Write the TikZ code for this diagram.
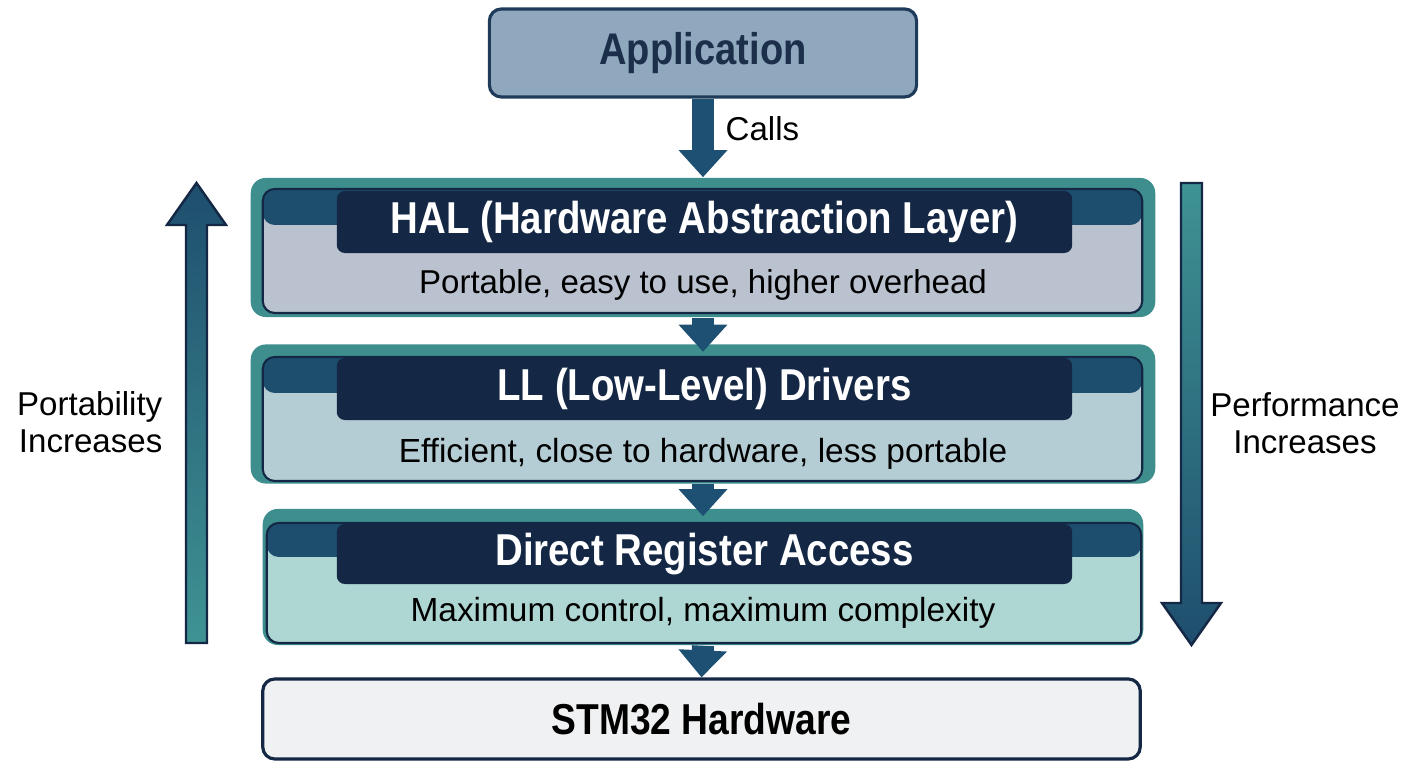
\documentclass[tikz,border=0pt]{standalone}
\usepackage{fontspec}
\setmainfont{Liberation Sans}[BoldFeatures={FakeStretch=0.86}]
\usetikzlibrary{arrows.meta,positioning,calc}
\definecolor{navy}{RGB}{20,40,70}
\definecolor{stripblue}{RGB}{30,78,110}
\definecolor{tealout}{RGB}{62,142,142}
\definecolor{flowblue}{RGB}{30,80,115}
\definecolor{appfill}{RGB}{143,168,190}
\definecolor{appline}{RGB}{30,60,90}
\definecolor{apptext}{RGB}{27,47,74}
\definecolor{halfill}{RGB}{185,194,206}
\definecolor{llfill}{RGB}{180,204,212}
\definecolor{drafill}{RGB}{174,214,210}
\definecolor{hwfill}{RGB}{240,241,242}
\definecolor{sideteal}{RGB}{63,147,147}

\tikzset{
  layerout/.style={fill=tealout, rounded corners=0.15cm, minimum width=9.04cm, minimum height=1.39cm, inner sep=0pt},
  layerin/.style={draw=navy, line width=0.6pt, rounded corners=0.12cm, minimum width=8.79cm, minimum height=1.24cm, inner sep=0pt,
    path picture={\fill[stripblue] (path picture bounding box.north west) rectangle ([yshift=-#1]path picture bounding box.north east);}},
  layerin/.default=0.36cm,
  titlebar/.style={fill=navy, rounded corners=0.08cm, minimum width=7.35cm, minimum height=0.62cm, inner sep=0pt, text=white, font=\bfseries\fontsize{12.7}{14}\selectfont},
  subtext/.style={font=\fontsize{9.5}{11}\selectfont},
  sidetext/.style={font=\fontsize{9.4}{10.5}\selectfont, inner sep=0pt},
  flow/.style={draw=flowblue, line width=0.22cm, -{Triangle[length=0.27cm, width=0.47cm]}}
}

\begin{document}
\begin{tikzpicture}[x=0.01cm,y=-0.01cm]
	\useasboundingbox (0,0) rectangle (1408,768);

	% top box
	\node[draw=appline, line width=0.9pt, fill=appfill, rounded corners=0.12cm, minimum width=4.27cm, minimum height=0.88cm, text=apptext, font=\bfseries\fontsize{12.6}{14}\selectfont] (app) at (703,53) {Application};

	% HAL layer
	\node[layerout] (halout) at (703,247.5) {};
	\node[layerin, fill=halfill] (halin) at (702.5,251) {};
	\node[titlebar] (haltitle) at (704.5,222) {HAL (Hardware Abstraction Layer)};
	\node[subtext, font=\fontsize{9.4}{11}\selectfont] (halsub) at (703,285) {Portable, easy to use, higher overhead};

	% LL layer
	\node[layerout] (llout) at (703,414) {};
	\node[layerin, fill=llfill] (llin) at (702.5,419) {};
	\node[titlebar] (lltitle) at (704.5,389) {LL (Low-Level) Drivers};
	\node[subtext] (llsub) at (703,454) {Efficient, close to hardware, less portable};

	% register layer
	\node[layerout, minimum width=8.80cm, minimum height=1.36cm] (draout) at (703,577) {};
	\node[layerin=0.34cm, fill=drafill, minimum width=8.74cm, minimum height=1.20cm] (drain) at (704,583) {};
	\node[titlebar, minimum height=0.60cm] (dratitle) at (704.5,554) {Direct Register Access};
	\node[subtext] (drasub) at (703,613) {Maximum control, maximum complexity};

	% hardware
	\node[draw=navy, line width=0.9pt, fill=hwfill, rounded corners=0.12cm, minimum width=8.77cm, minimum height=0.80cm, font=\bfseries\fontsize{12.3}{14}\selectfont] (hw) at (701.5,719) {STM32 Hardware};

	% flow arrows
	\draw[flow] (app.south) -- (halout.north);
	\node[sidetext, anchor=west] (calls) at (725,129) {Calls};
	\draw[flow, shorten >=-0.08cm] (halout.south) -- (llout.north);
	\draw[flow, shorten >=-0.08cm] (llout.south) -- (draout.north);
	\draw[flow] (draout.south) -- (hw.north);

	% side arrows
	\shade[top color=stripblue, bottom color=sideteal, draw=navy, line width=0.7pt]
		(186,643) -- (186,225) -- (167,225) -- (196.5,183) -- (226,225) -- (207,225) -- (207,643) -- cycle;
	\shade[top color=sideteal, bottom color=stripblue, draw=navy, line width=0.7pt]
		(1181,183) -- (1202,183) -- (1202,603) -- (1221,603) -- (1191.5,645) -- (1162,603) -- (1181,603) -- cycle;
	\node[sidetext, align=right, anchor=east] (portlbl) at (163,422) {Portability\\Increases};
	\node[sidetext, align=center] (perflbl) at (1305,423) {Performance\\Increases};
\end{tikzpicture}
\end{document}
